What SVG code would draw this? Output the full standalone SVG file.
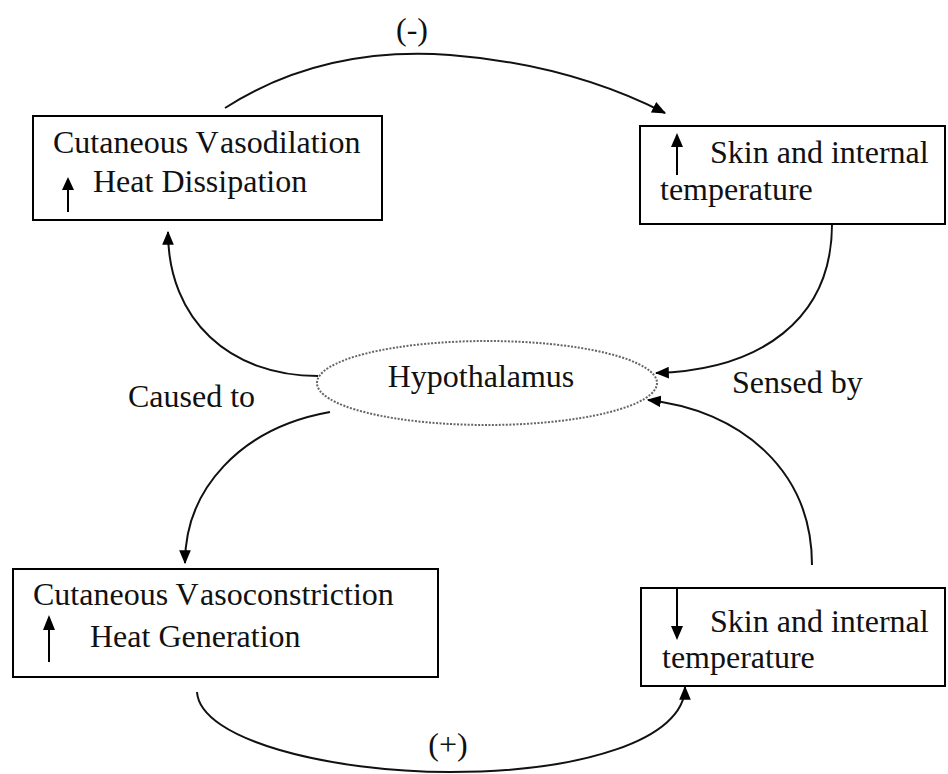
<svg xmlns="http://www.w3.org/2000/svg" width="948" height="774" viewBox="0 0 948 774">
<defs>
<style>
.box{fill:#fff;stroke:#000;stroke-width:2}
.t{font-family:"Liberation Serif","Times New Roman",serif;font-size:32px;fill:#111}
.c{fill:none;stroke:#111;stroke-width:2}
.ia{fill:none;stroke:#000;stroke-width:2}
</style>
<marker id="ah" viewBox="0 0 12 10" refX="11" refY="5" markerWidth="14" markerHeight="12" markerUnits="userSpaceOnUse" orient="auto">
<path d="M0,0 L12,5 L0,10 Z" fill="#000"/>
</marker>
</defs>
<rect width="948" height="774" fill="#fff"/>

<g id="connectors">
<path class="c" d="M225,108 C300,60 380,50 450,55 C540,62 610,85 665,113" marker-end="url(#ah)"/>
<path class="c" d="M832,224 C832,320 760,370 656,373" marker-end="url(#ah)"/>
<path class="c" d="M318,376 C230,376 168,320 168,232" marker-end="url(#ah)"/>
<path class="c" d="M330,412 C240,428 185,490 185,563" marker-end="url(#ah)"/>
<path class="c" d="M812,565 C812,470 740,410 648,400" marker-end="url(#ah)"/>
<path class="c" d="M197,692 C200,740 330,772 450,772 C580,772 685,740 685,687" marker-end="url(#ah)"/>
<text class="t" x="412" y="40" text-anchor="middle">(-)</text>
<text class="t" x="448" y="755" text-anchor="middle">(+)</text>
<text class="t" x="128" y="407">Caused to</text>
<text class="t" x="732" y="393">Sensed by</text>
</g>

<g id="vasodilation">
<rect class="box" x="33" y="116" width="349" height="104"/>
<text class="t" x="53" y="153">Cutaneous V<tspan dx="5">asodilation</tspan></text>
<path class="ia" d="M68,212 V186"/>
<path d="M62,190 L68,177 L74,190 Z" fill="#000"/>
<text class="t" x="93" y="192">Heat Dissipation</text>
</g>

<g id="temp-up">
<rect class="box" x="640" y="126" width="305" height="98"/>
<path class="ia" d="M677,175 V144"/>
<path d="M671,147 L677,133 L683,147 Z" fill="#000"/>
<text class="t" x="710" y="163">Skin and internal</text>
<text class="t" x="660" y="200">temperature</text>
</g>

<g id="hypothalamus">
<ellipse cx="487" cy="383" rx="170" ry="42" fill="#fff" stroke="#666" stroke-width="2" stroke-dasharray="2,1.5"/>
<text class="t" x="481" y="387" text-anchor="middle">Hypothalamus</text>
</g>

<g id="vasoconstriction">
<rect class="box" x="13" y="569" width="425" height="108"/>
<text class="t" x="33" y="605">Cutaneous V<tspan dx="5">asoconstriction</tspan></text>
<path class="ia" d="M49,662 V627"/>
<path d="M43,630 L49,615 L55,630 Z" fill="#000"/>
<text class="t" x="90" y="647">Heat Generation</text>
</g>

<g id="temp-down">
<rect class="box" x="641" y="588" width="304" height="98"/>
<path class="ia" d="M677,588 V628"/>
<path d="M671,626 L677,640 L683,626 Z" fill="#000"/>
<text class="t" x="710" y="632">Skin and internal</text>
<text class="t" x="662" y="668">temperature</text>
</g>
</svg>
